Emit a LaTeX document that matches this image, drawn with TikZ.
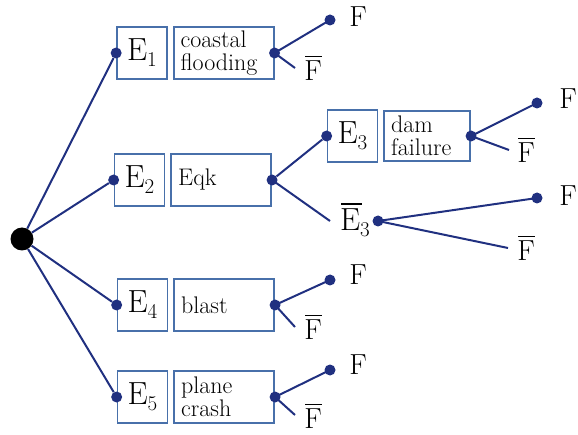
\documentclass[tikz,border=0pt]{standalone}
\usepackage{fontspec}
\usetikzlibrary{positioning}
\definecolor{tree_navy}{RGB}{32,48,128}
\definecolor{box_blue}{RGB}{72,112,170}
\newcommand{\evname}[1]{E\raisebox{-0.45ex}{\fontsize{21}{21}\selectfont #1}}
\newcommand{\notF}{\makebox[0pt][l]{\hspace{0.03em}\rule[0.8em]{0.58em}{0.055em}}F}
\newcommand{\notE}{\makebox[0pt][l]{\hspace{0.03em}\rule[0.8em]{0.64em}{0.05em}}E}
\tikzset{
  branch/.style={line width = 2pt, color = tree_navy},
  e_box/.style={draw = box_blue, line width = 1.7pt, minimum width = 50pt, minimum height = 52pt, inner sep = 0, font = \fontsize{32}{32}\selectfont},
  txt_box/.style={draw = box_blue, line width = 1.7pt, minimum height = 52pt, text width = 86pt, align = left, inner xsep = 7pt, inner ysep = 2pt, font = \fontsize{24}{23}\selectfont},
  root_dot/.style={circle, draw = none, fill = black, minimum size = 23pt, inner sep = 0},
  small_dot/.style={circle, draw = none, fill = tree_navy, minimum size = 11pt, inner sep = 0},
  out_label/.style={draw = none, inner sep = 1pt, font = \fontsize{29}{29}\selectfont},
  bar_label/.style={draw = none, inner sep = 1pt, font = \fontsize{32}{32}\selectfont}
}
\begin{document}
\begin{tikzpicture}[x = 1pt, y = -1pt]
\useasboundingbox (0,0) rectangle (578,435);

\node[root_dot] at (22,239) (root) {};

%% event boxes
\node[e_box] at (142,53)    (e1) {\evname{1}};
\node[e_box] at (139.5,180) (e2) {\evname{2}};
\node[e_box] at (352.5,136) (e3) {\evname{3}};
\node[e_box] at (142.5,305) (e4) {\evname{4}};
\node[e_box] at (142.5,397) (e5) {\evname{5}};

\node[txt_box, right = 5pt of e1] (t1) {coastal\\flooding};
\node[txt_box, right = 5pt of e2] (t2) {Eqk};
\node[txt_box, right = 5pt of e3, text width = 72pt, minimum height = 50pt] (t3) {dam\\failure};
\node[txt_box, right = 5pt of e4] (t4) {blast};
\node[txt_box, right = 5pt of e5] (t5) {plane\\crash};

\node[bar_label] at (355,220) (ne3) {\notE\raisebox{-0.45ex}{\fontsize{21}{21}\selectfont 3}};

%% dots
\node[small_dot] at (e1.west) (d1) {};
\node[small_dot] at (e2.west) (d2) {};
\node[small_dot] at (e3.west) (d3) {};
\node[small_dot] at (e4.west) (d4) {};
\node[small_dot] at (e5.west) (d5) {};

\node[small_dot] at (t1.east) (c1) {};
\node[small_dot] at (t2.east) (c2) {};
\node[small_dot] at (t3.east) (c3) {};
\node[small_dot] at (t4.east) (c4) {};
\node[small_dot] at (t5.east) (c5) {};
\node[small_dot] at (378,221) (c6) {};

\node[small_dot] at (330,20)  (f1) {};
\node[small_dot] at (537,103) (f3) {};
\node[small_dot] at (537,198) (f6) {};
\node[small_dot] at (330,280) (f4) {};
\node[small_dot] at (330,370) (f5) {};

%% outcome labels
\node[out_label] at (358,17)  (lf1) {F};
\node[out_label] at (568,99)  (lf3) {F};
\node[out_label] at (568,196) (lf6) {F};
\node[out_label] at (358,275) (lf4) {F};
\node[out_label] at (358,365) (lf5) {F};

\node[out_label] at (313,68)  (lg1) {\notF};
\node[out_label] at (526,150) (lg3) {\notF};
\node[out_label] at (526,248) (lg6) {\notF};
\node[out_label] at (313,327) (lg4) {\notF};
\node[out_label] at (313,416) (lg5) {\notF};

\coordinate (g1) at (295,68);
\coordinate (g3) at (509,150);
\coordinate (g6) at (508,248);
\coordinate (g4) at (295,327);
\coordinate (g5) at (295,415);
\coordinate (n3) at (330,221);

%% branches
\draw[branch] (root) -- (d1);
\draw[branch] (root) -- (d2);
\draw[branch] (root) -- (d4);
\draw[branch] (root) -- (d5);

\draw[branch] (c2) -- (d3);
\draw[branch] (c2.center) -- (n3);

\draw[branch] (c1.center) -- (f1.center);
\draw[branch] (c1.center) -- (g1);
\draw[branch] (c3.center) -- (f3.center);
\draw[branch] (c3.center) -- (g3);
\draw[branch] (c6.center) -- (f6.center);
\draw[branch] (c6.center) -- (g6);
\draw[branch] (c4.center) -- (f4.center);
\draw[branch] (c4.center) -- (g4);
\draw[branch] (c5.center) -- (f5.center);
\draw[branch] (c5.center) -- (g5);

\end{tikzpicture}
\end{document}
